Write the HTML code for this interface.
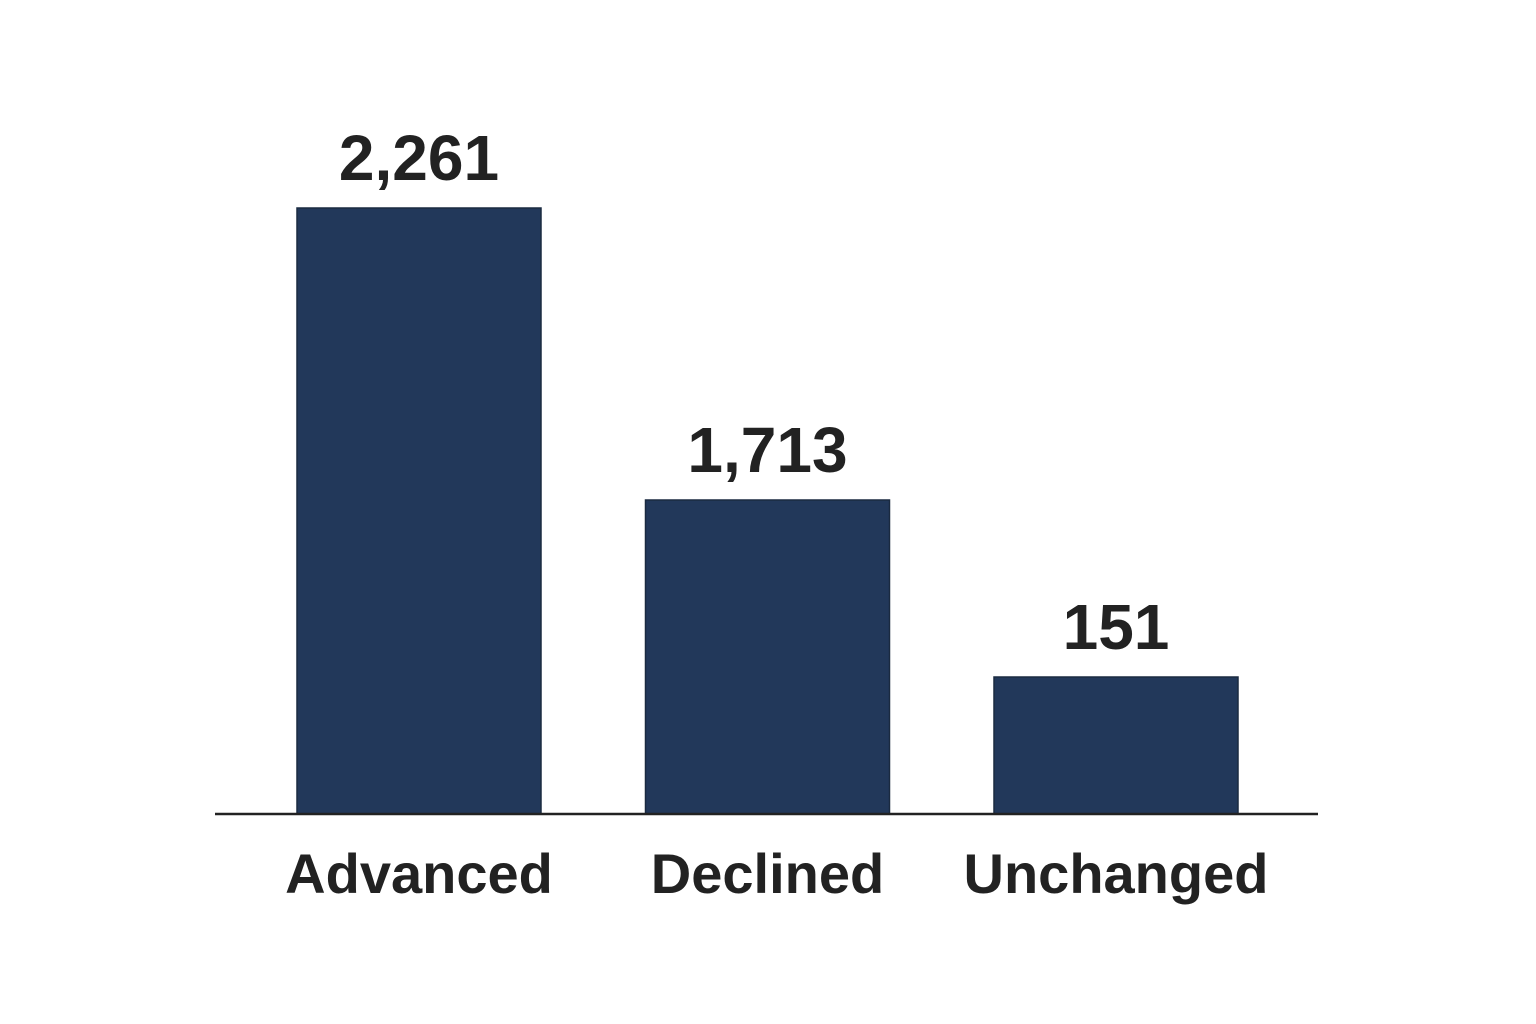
<!DOCTYPE html>
<html>
<head>
<meta charset="utf-8">
<style>
  html,body{margin:0;padding:0;background:#fff;}
  body{width:1536px;height:1024px;overflow:hidden;}
  svg{display:block;}
  text{font-family:"Liberation Sans",Arial,sans-serif;font-weight:bold;fill:#222;}
</style>
</head>
<body>
<svg id="chart" width="1536" height="1024" viewBox="0 0 1536 1024"></svg>
<script>
const categories = ["Advanced", "Declined", "Unchanged"];
const values = [2261, 1713, 151];
const valueLabels = ["2,261", "1,713", "151"];
// Piecewise-linear value scale (chart is not drawn to a uniform scale)
const scaleDomain = [0, 151, 1713, 2261];
const scaleRange = [0, 137, 314, 606];

const NS = "http://www.w3.org/2000/svg";
const svg = document.getElementById("chart");
const baseY = 814, firstX = 297, step = 348.5, barW = 244;

function yScale(v){
  for (let i = 1; i < scaleDomain.length; i++){
    if (v <= scaleDomain[i] || i === scaleDomain.length - 1){
      const d0 = scaleDomain[i-1], d1 = scaleDomain[i], r0 = scaleRange[i-1], r1 = scaleRange[i];
      return baseY - (r0 + (v - d0) * (r1 - r0) / (d1 - d0));
    }
  }
}
function xBand(i){ return firstX + i * step; }

function mk(tag, attrs){
  const el = document.createElementNS(NS, tag);
  for (const k in attrs) el.setAttribute(k, attrs[k]);
  return el;
}

categories.forEach((c, i) => {
  const x = xBand(i), y = yScale(values[i]);
  const bar = mk("rect", {x: x, y: y, width: barW, height: baseY - y, fill: "#22385a", stroke: "#1a2a40", "stroke-width": 1.5});
  
  
  svg.appendChild(bar);

  const vl = mk("text", {x: x + barW / 2, y: y - 28, "text-anchor": "middle", "font-size": 64});
  vl.textContent = valueLabels[i];
  
  
  svg.appendChild(vl);

  const cl = mk("text", {x: x + barW / 2, y: 893, "text-anchor": "middle", "font-size": 56});
  cl.textContent = c;
  
  
  svg.appendChild(cl);
});

const axis = mk("line", {x1: 215, y1: baseY, x2: 1318, y2: baseY, stroke: "#222", "stroke-width": 2.5});


svg.appendChild(axis);
</script>
</body>
</html>
